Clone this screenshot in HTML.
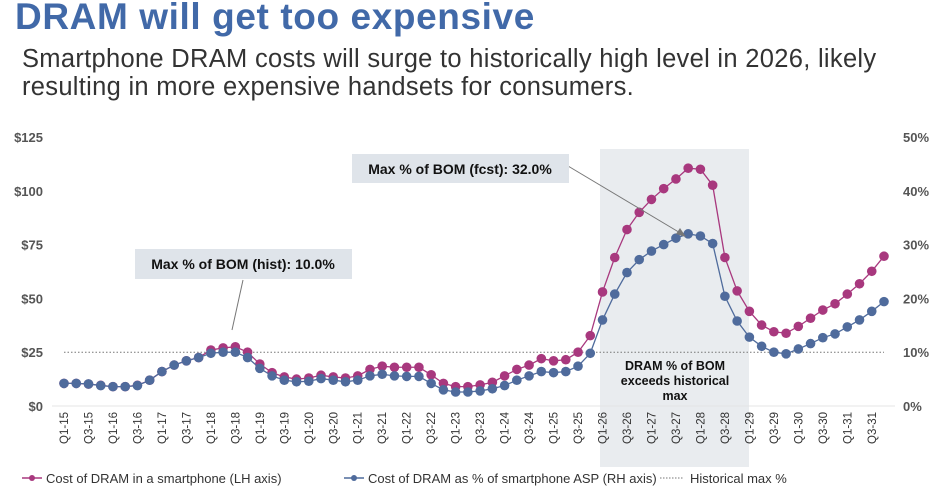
<!DOCTYPE html>
<html><head><meta charset="utf-8"><style>
body{margin:0;background:#fff;width:937px;height:493px;overflow:hidden;font-family:"Liberation Sans",sans-serif}
#title{position:absolute;left:15px;top:-4px;font-size:37px;font-weight:bold;color:#4169a8;letter-spacing:0.6px}
#sub{position:absolute;left:22px;top:45px;font-size:25.5px;color:#333;line-height:28px;letter-spacing:0.3px;white-space:nowrap}
svg{position:absolute;left:0;top:0}
</style></head><body>
<div id="title">DRAM will get too expensive</div>
<div id="sub">Smartphone DRAM costs will surge to historically high level in 2026, likely<br>resulting in more expensive handsets for consumers.</div>
<svg id="c" width="937" height="493"></svg>
<script>
const costUSD=[10.5,10.5,10.2,9.6,9.0,9.0,9.6,12,16,19,21,22.5,
26,27,27.5,25,19.5,15.5,13.5,12.5,13,14.3,13.5,13,
14,17,18.5,18,18,18,14.5,10.5,9,9,9.8,11,
14,17,19,22,21,21.5,25,32.7,53,69,82,90,
96,101,105.5,110.5,110,102.6,69,53.5,44,37.6,34.5,33.8,
37,40.8,44.6,47.5,52,56.8,62.6,69.6];
const pctASP=[4.2,4.2,4.1,3.8,3.6,3.6,3.8,4.8,6.4,7.6,8.4,9.0,
9.8,10.0,10.0,9.0,7.0,5.6,4.8,4.5,4.6,5.1,4.8,4.5,
4.8,5.6,5.9,5.6,5.5,5.5,4.2,3.0,2.6,2.6,2.8,3.2,
3.8,4.8,5.6,6.4,6.2,6.4,7.4,9.8,16.0,20.8,24.8,27.2,
28.8,30.0,31.2,32.0,31.6,30.2,20.4,15.8,12.8,11.1,10.0,9.7,
10.6,11.6,12.7,13.4,14.7,16.0,17.6,19.4];
const leftTicks=[0,25,50,75,100,125];
const rightTicks=[0,10,20,30,40,50];
const histMax=10;
const startYear=15;
const NS='http://www.w3.org/2000/svg';
const svg=document.getElementById('c');
const x0=64,x1=884,yB=406,yT=137;
const n=costUSD.length;
const xs=i=>x0+(x1-x0)*i/(n-1);
const yL=v=>yB-(yB-yT)*v/125;
const yR=v=>yB-(yB-yT)*v/50;
function mk(t,a,p){const e=document.createElementNS(NS,t);for(const k in a)e.setAttribute(k,a[k]);(p||svg).appendChild(e);return e;}
let sh=mk('rect',{x:600,y:149,width:149,height:318,fill:'#e9ecef'});


mk('line',{x1:52,x2:895,y1:yB,y2:yB,stroke:'#e4e4e4','stroke-width':1});
leftTicks.forEach(v=>{let t=mk('text',{x:43,y:yL(v)+5,'text-anchor':'end','font-size':13,'font-weight':'bold',fill:'#555'});t.textContent='$'+v;

});
rightTicks.forEach(v=>{let t=mk('text',{x:903,y:yR(v)+5,'font-size':13,'font-weight':'bold',fill:'#555'});t.textContent=v+'%';

});
for(let i=0;i<n;i+=2){const q=(i%4)+1,yr=startYear+Math.floor(i/4);const x=xs(i);
let t=mk('text',{x:0,y:0,transform:`translate(${x+4},412) rotate(-90)`,'text-anchor':'end','font-size':11.5,fill:'#333'});t.textContent='Q'+q+'-'+yr;

}
let hl=mk('line',{x1:64,x2:884,y1:yR(histMax),y2:yR(histMax),stroke:'#777','stroke-dasharray':'1.5,2','stroke-width':1});


function series(arr,yf,col,name){
 let p=mk('polyline',{points:arr.map((v,i)=>xs(i)+','+yf(v)).join(' '),fill:'none',stroke:col,'stroke-width':1.3});
 
 
 arr.forEach((v,i)=>{let c=mk('circle',{cx:xs(i),cy:yf(v),r:4.8,fill:col});
 
 });
}
series(costUSD,yL,'#a8387e','dram-cost');
series(pctASP,yR,'#4f6b9c','dram-pct-asp');
mk('line',{x1:243,y1:280,x2:232,y2:330,stroke:'#777','stroke-width':1});
let b1=mk('rect',{x:135,y:249,width:217,height:30,fill:'#dfe4ea'});


let t1=mk('text',{x:243,y:269,'text-anchor':'middle','font-size':14,'font-weight':'bold',fill:'#111'});t1.textContent='Max % of BOM (hist): 10.0%';
mk('line',{x1:568,y1:166,x2:682,y2:234,stroke:'#777','stroke-width':1});
mk('polygon',{points:'686,237 676,234 680,228',fill:'#777'});
let b2=mk('rect',{x:352,y:154,width:217,height:29,fill:'#dfe4ea'});


let t2=mk('text',{x:460,y:174,'text-anchor':'middle','font-size':14,'font-weight':'bold',fill:'#111'});t2.textContent='Max % of BOM (fcst): 32.0%';
[['DRAM % of BOM',370],['exceeds historical',385],['max',400]].forEach(([s,y])=>{let t=mk('text',{x:675,y:y,'text-anchor':'middle','font-size':12.5,'font-weight':'bold',fill:'#111'});t.textContent=s;

});
function leg(x,col,label,dash){
 const g=mk('g',{});
 
 
 if(dash){mk('line',{x1:x,x2:x+24,y1:478,y2:478,stroke:'#777','stroke-dasharray':'1.5,1.5'},g);}
 else{mk('line',{x1:x,x2:x+20,y1:478,y2:478,stroke:col,'stroke-width':1.5},g);mk('circle',{cx:x+10,cy:478,r:3,fill:col},g);}
 const t=mk('text',{x:x+(dash?30:24),y:483,'font-size':13,fill:'#333'},g);t.textContent=label;
}
leg(22,'#a8387e','Cost of DRAM in a smartphone (LH axis)');
leg(344,'#4f6b9c','Cost of DRAM as % of smartphone ASP (RH axis)');
leg(660,'#777','Historical max %',true);
</script>
</body></html>
